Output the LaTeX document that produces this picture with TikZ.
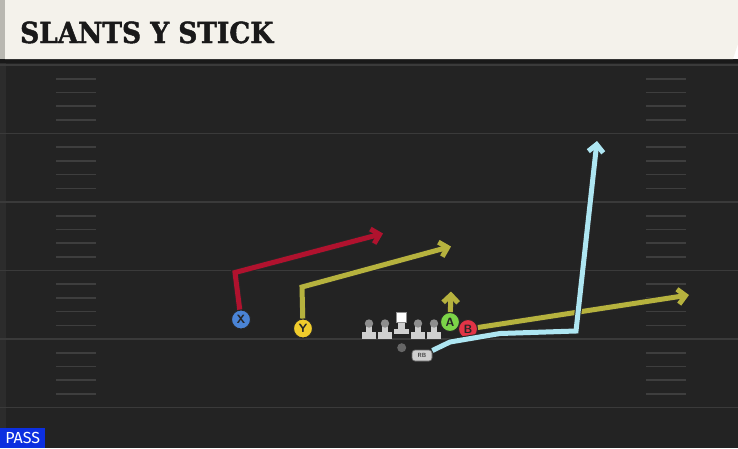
\documentclass[tikz,border=0pt]{standalone}
\usepackage{fontspec}
\usepackage{tikz}
\usetikzlibrary{calc,arrows.meta}
\newfontfamily\titlefont{DejaVu Serif}[UprightFont={* Bold},FakeBold=1.6,FakeStretch=0.91]
\newfontfamily\passfont{Fira Sans}
\definecolor{cream}{HTML}{F4F2EB}
\definecolor{creamedge}{HTML}{B9B8B1}
\definecolor{field}{HTML}{232323}
\definecolor{fieldedge}{HTML}{2C2C2C}
\definecolor{yardline}{HTML}{3A3A3A}
\definecolor{hashline}{HTML}{3E3E3E}
\definecolor{slantred}{HTML}{B0122E}
\definecolor{olive}{HTML}{B6B23E}
\definecolor{wheelblue}{HTML}{AEE6F2}
\definecolor{xblue}{HTML}{4A84D6}
\definecolor{yyellow}{HTML}{F0CC2C}
\definecolor{agreen}{HTML}{7CD448}
\definecolor{bred}{HTML}{E23446}
\definecolor{passblue}{HTML}{0C2FE0}
\definecolor{linegray}{HTML}{CFCFCF}
\definecolor{helmetgray}{HTML}{8E8E8E}

\begin{document}
\begin{tikzpicture}[x=1pt,y=-1pt,
    player/.style={circle,draw=black!85,line width=1pt,minimum size=19pt,inner sep=0,
        font=\sffamily\bfseries\large,text=black!85},
    route/.style={line width=5pt,-{Straight Barb[length=7.5pt,width=15pt]},
        preaction={draw=black!85,line width=7pt}},
    lineman/.style={fill=linegray},
    helmet/.style={fill=helmetgray}]
    \useasboundingbox (0,0) rectangle (738,448);
    \newcommand{\hashL}{56};
    \newcommand{\hashR}{646};
    \newcommand{\yds}{68.5};

    % field
    \fill[field] (0,59) rectangle (738,448);
    \fill[fieldedge] (0,59) rectangle (6,448);
    \foreach \k in {0,...,5}
        \draw[yardline,line width=1.8pt] (0,65+\yds*\k) -- (738,65+\yds*\k);
    \foreach \k in {0,...,4}
        \foreach \j in {1,...,4} {
            \draw[hashline,line width=1.6pt] (\hashL,65+\yds*\k+13.7*\j) -- +(40,0);
            \draw[hashline,line width=1.6pt] (\hashR,65+\yds*\k+13.7*\j) -- +(40,0);
        }

    % header
    \fill[black!90] (0,59) rectangle (738,63);
    \fill[cream] (5,0) -- (738,0) -- (738,44) -- (733,59) -- (5,59) -- cycle;
    \fill[creamedge] (0,0) rectangle (5,59);
    \node[anchor=base west,inner sep=0,text=black!90,
        font=\titlefont\fontsize{29}{29}\selectfont] (title) at (20,43) {SLANTS Y STICK};

    % offensive line
    \foreach \lx in {369,385,418,434} {
        \fill[lineman] (\lx-7,332) rectangle (\lx+7,338.5);
        \fill[lineman] (\lx-3,323) rectangle (\lx+3,334);
        \fill[helmet] (\lx,323.5) circle (4.2pt);
    }
    \fill[lineman] (394,328.5) rectangle (409,334);
    \fill[lineman] (398,321) rectangle (405,330);
    \filldraw[fill=white,draw=helmetgray,line width=1pt] (396.5,312.5) rectangle (406,322);
    \node[circle,fill=black!60,minimum size=9pt,inner sep=0] (QB) at (401.7,347.7) {};
    \node[fill=linegray,draw=black!60,line width=0.7pt,rounded corners=3pt,minimum width=20pt,
        minimum height=11pt,inner sep=0,text=black!75,
        font=\sffamily\bfseries\fontsize{6}{6}\selectfont] (RB) at (422,355.5) {RB};

    % receivers
    \node[player,fill=xblue] (X) at (241,319.5) {X};
    \node[player,fill=yyellow] (Y) at (303,328.5) {Y};
    \node[player,fill=agreen] (A) at (450,322) {A};
    \node[player,fill=bred] (B) at (468,329) {B};

    \path coordinate (xbreak) at (235,272.5);
    \path coordinate (ybreak) at (302,287);
    \draw[route,slantred] (X) -- (xbreak) -- (383,233.5);
    \draw[route,olive] (Y) -- (ybreak) -- (451,246.5);
    \draw[route,olive] (A) -- (451,291.5);
    \draw[route,olive] (B) -- (689,295);
    \draw[route,wheelblue] (RB) -- (450,342) -- (500,333.5) -- (576,331) -- (597,141);

    \node[fill=passblue,text=white,anchor=south west,minimum width=45pt,minimum height=20pt,
        inner sep=0,font=\passfont\fontsize{16}{16}\selectfont] (pass) at (0,448) {PASS};
\end{tikzpicture}
\end{document}
